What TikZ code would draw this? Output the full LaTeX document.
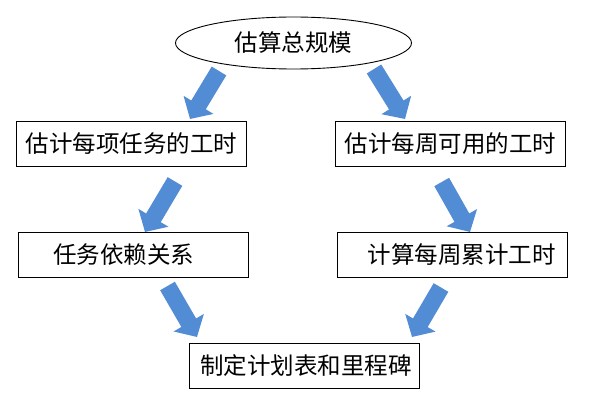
\documentclass[tikz,border=0pt]{standalone}
\usepackage{fontspec}
\setmainfont{Noto Sans CJK SC}
\usetikzlibrary{shapes.geometric,arrows.meta}
\definecolor{arrowblue}{RGB}{82,140,212}
\begin{document}
\begin{tikzpicture}[x=1pt,y=-1pt,
    box/.style={draw,line width=0.9pt,minimum width=230pt,minimum height=45pt,inner sep=0pt,font=\fontsize{23.5}{28}\selectfont},
    oval/.style={draw,ellipse,line width=0.9pt,minimum width=236pt,minimum height=52pt,inner sep=0pt,font=\fontsize{23.5}{28}\selectfont},
    blockarrow/.style={draw=arrowblue,line width=17pt,-{Triangle[length=16.5pt,width=34pt]}}]
        \useasboundingbox (0,0) rectangle (603,404);
        \node[oval] at (293.5,43)  (est)    {估算总规模};
        \node[box]  at (131.5,144) (tasks)  {估计每项任务的工时};
        \node[box]  at (450.5,144) (weekly) {估计每周可用的工时};
        \node[box]  at (133.5,255) (deps)   {任务依赖关系\hspace*{20pt}};
        \node[box]  at (452,254.5) (accum)  {\hspace*{19pt}计算每周累计工时};
        \node[box]  at (304,365.5) (plan)   {\hspace*{4pt}制定计划表和里程碑};
        % arrow ends
        \coordinate (a1) at (219,71);    \coordinate (b1) at (190,119);
        \coordinate (a2) at (374,69);    \coordinate (b2) at (405,119);
        \coordinate (a3) at (175,181.5); \coordinate (b3) at (145,232);
        \coordinate (a4) at (441.7,182); \coordinate (b4) at (470,232);
        \coordinate (a5) at (167.5,286); \coordinate (b5) at (197,337);
        \coordinate (a6) at (441,287.5); \coordinate (b6) at (412,337);
        \draw[blockarrow] (a1) -- (b1);
        \draw[blockarrow] (a2) -- (b2);
        \draw[blockarrow] (a3) -- (b3);
        \draw[blockarrow] (a4) -- (b4);
        \draw[blockarrow] (a5) -- (b5);
        \draw[blockarrow] (a6) -- (b6);
      \end{tikzpicture}
\end{document}
